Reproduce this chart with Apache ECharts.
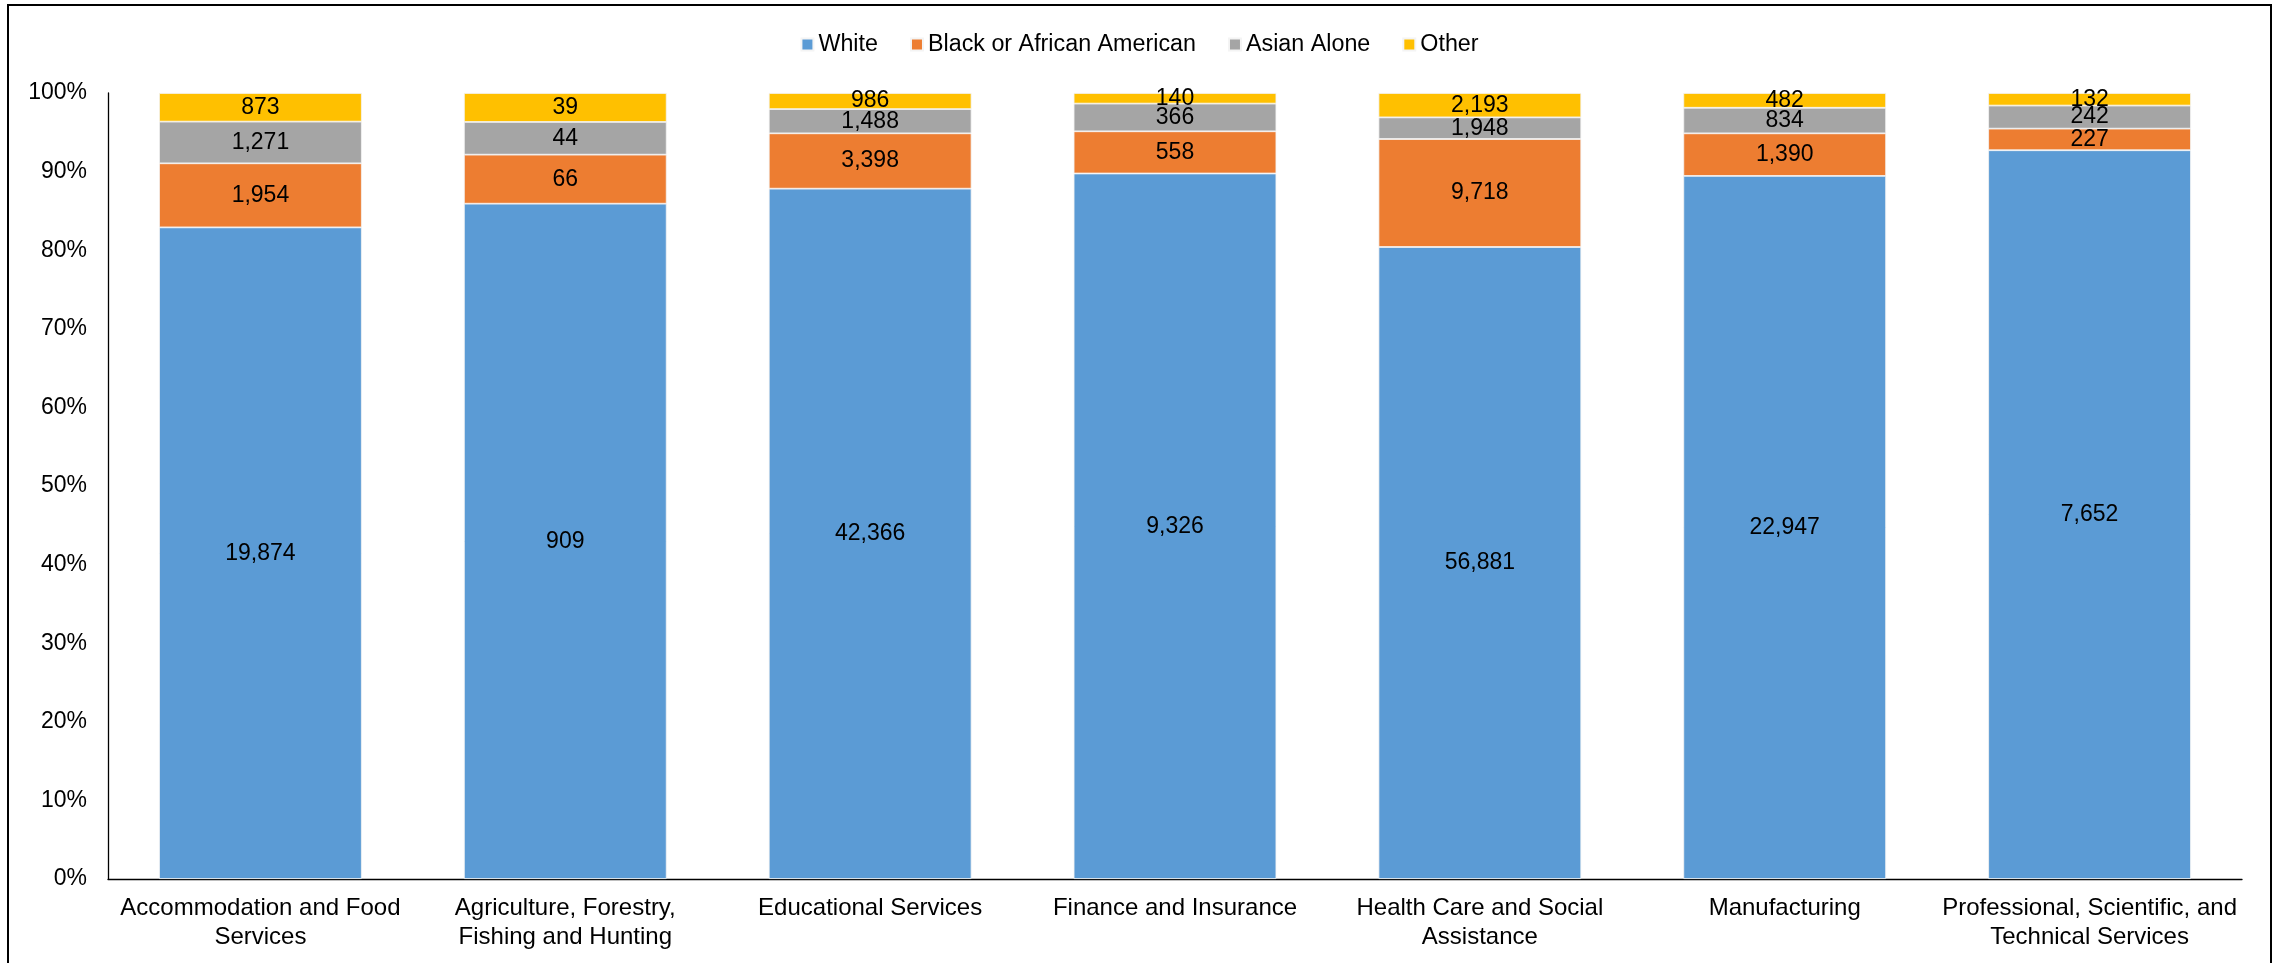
<!DOCTYPE html>
<html>
<head>
<meta charset="utf-8">
<style>
  html, body { margin: 0; padding: 0; background: #fff; }
  #chart { width: 2279px; height: 963px; }
</style>
<script src="https://cdn.jsdelivr.net/npm/echarts@6/dist/echarts.min.js"></script>
</head>
<body>
<div id="chart"></div>
<script>
// Industries along the x axis
const categories = [
  'Accommodation and Food\nServices',
  'Agriculture, Forestry,\nFishing and Hunting',
  'Educational Services',
  'Finance and Insurance',
  'Health Care and Social\nAssistance',
  'Manufacturing',
  'Professional, Scientific, and\nTechnical Services'
];

// Worker counts by race, one value per industry
const white = [19874, 909, 42366, 9326, 56881, 22947, 7652];
const black = [1954, 66, 3398, 558, 9718, 1390, 227];
const asian = [1271, 44, 1488, 366, 1948, 834, 242];
const other = [873, 39, 986, 140, 2193, 482, 132];

const seriesNames = ['White', 'Black or African American', 'Asian Alone', 'Other'];
const seriesColors = ['#5B9BD5', '#ED7D31', '#A5A5A5', '#FFC000'];
const rawSeries = [white, black, asian, other];

// Each bar is scaled to 100% of its industry's total
const totals = categories.map((_, i) => rawSeries.reduce((s, arr) => s + arr[i], 0));

const FONT = '"Liberation Sans", Arial, sans-serif';

const series = rawSeries.map((arr, k) => ({
  name: seriesNames[k],
  type: 'bar',
  stack: 'total',
  barCategoryGap: '33.5%',
  itemStyle: { color: seriesColors[k], borderColor: '#f4f4f4', borderWidth: 0.8 },
  label: {
    show: true,
    position: 'inside',
    color: '#000',
    fontFamily: FONT,
    fontSize: 23,
    formatter: p => arr[p.dataIndex].toLocaleString('en-US')
  },
  emphasis: { disabled: true },
  data: arr.map((v, i) => v / totals[i] * 100)
}));

const chart = echarts.init(document.getElementById('chart'), null, { renderer: 'canvas' });
chart.setOption({
  animation: false,
  backgroundColor: '#fff',
  textStyle: { fontFamily: FONT },
  graphic: [{
    type: 'rect',
    shape: { x: 8, y: 5, width: 2263, height: 980 },
    style: { fill: 'none', stroke: '#000', lineWidth: 2 },
    silent: true
  }],
  legend: {
    top: 28,
    left: 'center',
    icon: 'rect',
    itemWidth: 12,
    itemHeight: 12,
    itemGap: 32,
    textStyle: { fontFamily: FONT, fontSize: 23.3, color: '#000' },
    data: seriesNames
  },
  grid: { left: 108, right: 37, top: 93, bottom: 84, containLabel: false },
  xAxis: {
    type: 'category',
    data: categories,
    axisLine: { lineStyle: { color: '#000', width: 1.3 } },
    axisTick: { show: false },
    axisLabel: {
      color: '#000',
      fontFamily: FONT,
      fontSize: 24,
      lineHeight: 29,
      margin: 15,
      interval: 0
    }
  },
  yAxis: {
    type: 'value',
    min: 0,
    max: 100,
    interval: 10,
    axisLine: { show: true, lineStyle: { color: '#000', width: 1.3 } },
    axisTick: { show: false },
    splitLine: { show: false },
    axisLabel: {
      color: '#000',
      fontFamily: FONT,
      fontSize: 23,
      margin: 21,
      formatter: '{value}%'
    }
  },
  series: series
});
</script>
</body>
</html>
